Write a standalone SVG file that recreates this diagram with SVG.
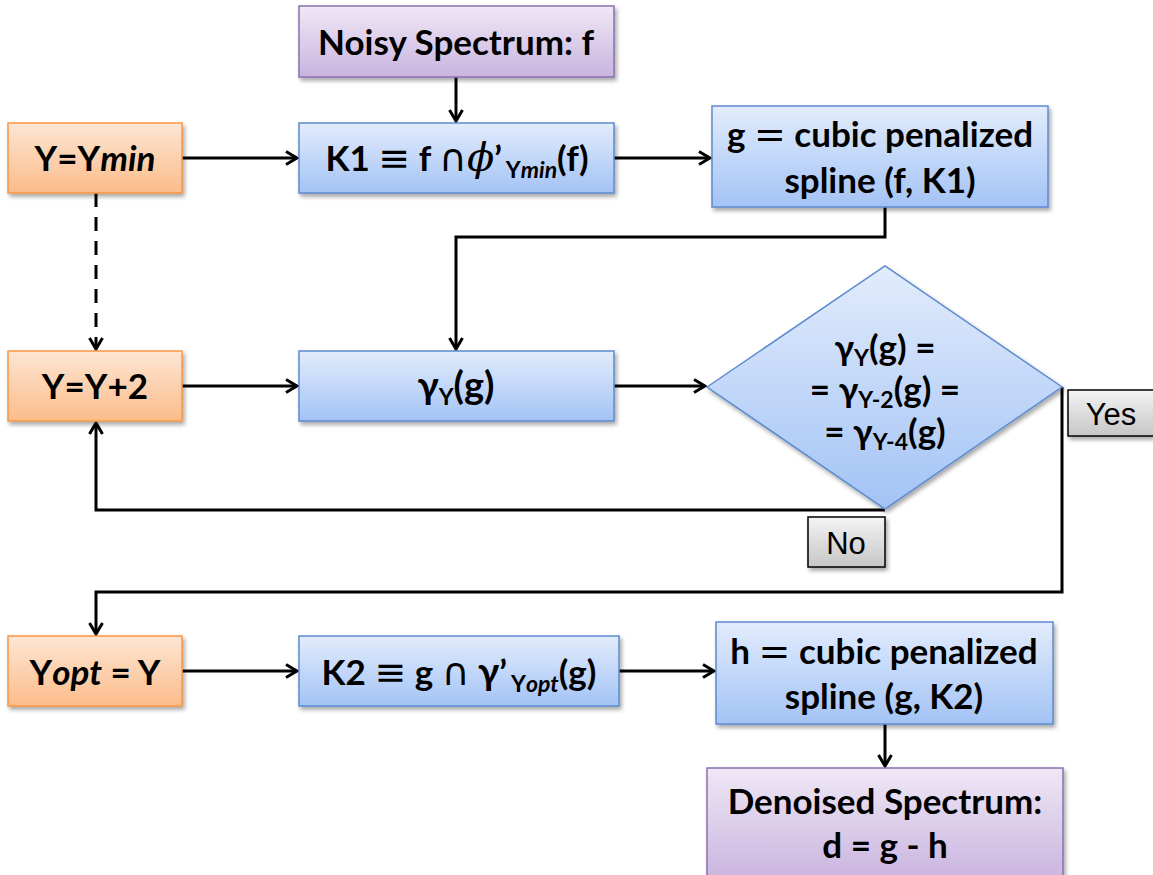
<svg xmlns="http://www.w3.org/2000/svg" width="1153" height="875" viewBox="0 0 1153 875">
  <defs>
    <linearGradient id="gBlue" x1="0" y1="0" x2="0" y2="1">
      <stop offset="0" stop-color="#e2ecfc"/>
      <stop offset="1" stop-color="#a3c3f5"/>
    </linearGradient>
    <linearGradient id="gOrange" x1="0" y1="0" x2="0" y2="1">
      <stop offset="0" stop-color="#fde6d4"/>
      <stop offset="1" stop-color="#fbbc8a"/>
    </linearGradient>
    <linearGradient id="gPurple" x1="0" y1="0" x2="0" y2="1">
      <stop offset="0" stop-color="#efe8f6"/>
      <stop offset="1" stop-color="#c9b4df"/>
    </linearGradient>
    <linearGradient id="gGray" x1="0" y1="0" x2="0" y2="1">
      <stop offset="0" stop-color="#f4f4f4"/>
      <stop offset="1" stop-color="#c6c6c6"/>
    </linearGradient>
    <filter id="shadow" x="-10%" y="-10%" width="130%" height="140%">
      <feDropShadow dx="2" dy="3" stdDeviation="2" flood-color="#000" flood-opacity="0.35"/>
    </filter>
    <marker id="arrow" viewBox="0 0 16 16" refX="14" refY="8" markerWidth="16" markerHeight="16" markerUnits="userSpaceOnUse" orient="auto">
      <path d="M3,1.5 L14,8 L3,14.5" fill="none" stroke="#000" stroke-width="3"/>
    </marker>
  </defs>
  <style>
    .blue { fill: url(#gBlue); stroke: #5b8bd0; stroke-width: 1.5; filter: url(#shadow); }
    .orange { fill: url(#gOrange); stroke: #f79646; stroke-width: 1.5; filter: url(#shadow); }
    .purple { fill: url(#gPurple); stroke: #8a70b0; stroke-width: 1.5; filter: url(#shadow); }
    .gray { fill: url(#gGray); stroke: #000; stroke-width: 1.5; filter: url(#shadow); }
    .t { font-family: Lato, "Open Sans", "Liberation Sans", sans-serif; font-weight: bold; font-size: 35px; fill: #000; text-anchor: middle; }
    .lbl { font-family: "Liberation Sans", Arial, sans-serif; font-size: 31px; fill: #000; text-anchor: middle; }
    .sub { font-size: 23px; }
    .it { font-style: italic; }
    .op { font-family: "DejaVu Sans", sans-serif; font-weight: normal; font-size: 38px; }
    .phi { font-family: "DejaVu Serif", serif; font-style: italic; font-weight: normal; font-size: 40px; }
    .big { font-size: 38px; }
    .conn { fill: none; stroke: #000; stroke-width: 3; }
  </style>

  <!-- connectors -->
  <g id="connectors">
    <path class="conn" d="M456,77 V121" marker-end="url(#arrow)"/>
    <path class="conn" d="M182,158 H297" marker-end="url(#arrow)"/>
    <path class="conn" d="M614,158 H710" marker-end="url(#arrow)"/>
    <path class="conn" d="M885,207 V237 H456 V349" marker-end="url(#arrow)"/>
    <path class="conn" d="M96,193 V349" stroke-dasharray="14,10" marker-end="url(#arrow)"/>
    <path class="conn" d="M182,386 H297" marker-end="url(#arrow)"/>
    <path class="conn" d="M614,386 H705" marker-end="url(#arrow)"/>
    <path class="conn" d="M885,510 H96 V423" marker-end="url(#arrow)"/>
    <path class="conn" d="M1062,387 V592 H96 V634" marker-end="url(#arrow)"/>
    <path class="conn" d="M182,671 H297" marker-end="url(#arrow)"/>
    <path class="conn" d="M619,671 H714" marker-end="url(#arrow)"/>
    <path class="conn" d="M885,724 V766" marker-end="url(#arrow)"/>
  </g>

  <g id="noisy">
    <rect class="purple" x="299" y="6" width="315" height="71"/>
    <text class="t" x="456" y="55">Noisy Spectrum: f</text>
  </g>

  <g id="y-min">
    <rect class="orange" x="8" y="123" width="174" height="70"/>
    <text class="t" x="95" y="171">Y=Y<tspan class="it">min</tspan></text>
  </g>

  <g id="k1">
    <rect class="blue" x="299" y="123" width="315" height="70"/>
    <text class="t" x="457" y="171">K1 <tspan class="op">≡</tspan> f <tspan class="op">∩</tspan><tspan class="phi">ϕ</tspan>’<tspan class="sub" dx="4" dy="7">Y<tspan class="it">min</tspan></tspan><tspan dy="-7">(f)</tspan></text>
  </g>

  <g id="spline-g">
    <rect class="blue" x="712" y="106" width="336" height="101"/>
    <text class="t" x="880" y="147">g <tspan class="op">=</tspan> cubic penalized</text>
    <text class="t" x="880" y="193">spline (f, K1)</text>
  </g>

  <g id="y-step">
    <rect class="orange" x="8" y="351" width="174" height="70"/>
    <text class="t" x="95" y="399">Y=Y+2</text>
  </g>

  <g id="gamma">
    <rect class="blue" x="299" y="351" width="315" height="70"/>
    <text class="t big" x="456" y="399">γ<tspan class="sub" dy="6">Y</tspan><tspan dy="-6">(g)</tspan></text>
  </g>

  <g id="decision">
    <polygon class="blue" points="707,387 885,266 1062,387 885,509"/>
    <text class="t" x="885" y="360">γ<tspan class="sub" dy="6">Y</tspan><tspan dy="-6">(g) =</tspan></text>
    <text class="t" x="885" y="402">= γ<tspan class="sub" dy="6">Y-2</tspan><tspan dy="-6">(g) =</tspan></text>
    <text class="t" x="885" y="444">= γ<tspan class="sub" dy="6">Y-4</tspan><tspan dy="-6">(g)</tspan></text>
  </g>

  <g id="yes">
    <rect class="gray" x="1068" y="390" width="86" height="46"/>
    <text class="lbl" x="1111" y="425">Yes</text>
  </g>

  <g id="no">
    <rect class="gray" x="808" y="517" width="77" height="50"/>
    <text class="lbl" x="846" y="554">No</text>
  </g>

  <g id="y-opt">
    <rect class="orange" x="8" y="636" width="174" height="70"/>
    <text class="t" x="95" y="685">Y<tspan class="it">opt</tspan> = Y</text>
  </g>

  <g id="k2">
    <rect class="blue" x="299" y="636" width="320" height="70"/>
    <text class="t" x="459" y="685">K2 <tspan class="op">≡</tspan> g <tspan class="op">∩</tspan> <tspan class="big">γ</tspan>’<tspan class="sub" dx="4" dy="7">Y<tspan class="it">opt</tspan></tspan><tspan dy="-7">(g)</tspan></text>
  </g>

  <g id="spline-h">
    <rect class="blue" x="716" y="622" width="337" height="102"/>
    <text class="t" x="884" y="664">h <tspan class="op">=</tspan> cubic penalized</text>
    <text class="t" x="884" y="709">spline (g, K2)</text>
  </g>

  <g id="denoised">
    <rect class="purple" x="707" y="768" width="356" height="112"/>
    <text class="t" x="885" y="814">Denoised Spectrum:</text>
    <text class="t" x="885" y="858">d = g - h</text>
  </g>
</svg>
